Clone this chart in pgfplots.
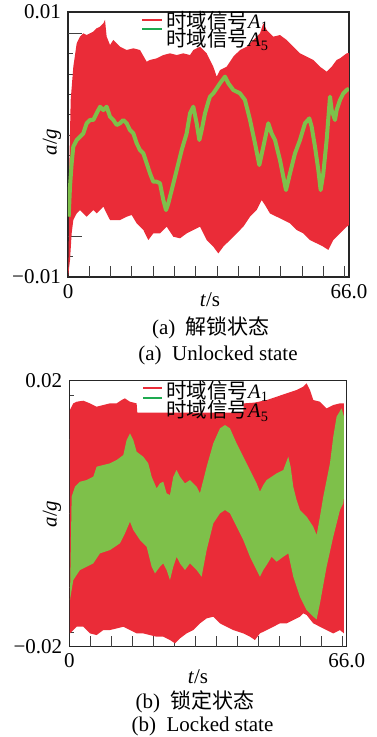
\documentclass[border=0pt]{standalone}
\usepackage{fontspec}
\setmainfont{Liberation Serif}
\newfontfamily\cjk{Noto Sans CJK SC}
\usepackage{pgfplots}
\pgfplotsset{compat=1.18}
\usepackage{pgfplotstable}
\definecolor{sigred}{RGB}{234,44,56}
\definecolor{siggreen}{RGB}{126,192,74}
\definecolor{leggreen}{RGB}{30,170,80}

% ---------- Panel (a): unlocked state, values in units of 1e-3 g ----------
% red band: upper envelope (t ascending)
\pgfplotstableread{
t v
0.16 -8
0.31 -1.67
0.63 3.36
1.25 5.87
2.04 7.63
2.82 8.14
3.60 8.39
4.38 8.26
5.17 8.39
5.95 8.52
6.73 8.77
7.52 8.89
8.30 9.14
8.69 9.40
9.08 8.14
9.87 7.51
10.65 7.89
11.43 7.63
12.21 7.38
13.78 7.13
15.35 7.26
16.91 7.13
18.48 6.25
19.26 6.38
20.83 6.50
22.39 6.75
23.96 6.88
25.53 6.75
27.09 6.88
28.66 6.75
29.44 7.13
31.00 7.38
32.57 6.88
34.13 5.87
34.92 5.12
35.70 5.62
37.26 5.87
38.83 6.63
40.40 7.13
41.96 7.38
43.53 7.89
45.09 8.39
45.88 9.14
46.66 8.64
48.23 8.14
49.79 8.26
51.36 7.89
52.92 7.38
54.49 6.88
56.06 6.63
57.62 6.38
59.19 5.87
60.75 5.50
61.93 5.87
63.10 6.38
63.89 6.50
65.45 6.88
66.00 6.90
}\upA
% red band: lower envelope (t ascending)
\pgfplotstableread{
t v
0.00 -10
0.47 -8.72
0.86 -6.71
1.25 -5.70
2.04 -5.20
2.82 -4.95
3.60 -5.20
4.38 -5.45
5.17 -5.20
5.95 -4.95
6.73 -5.20
7.52 -4.95
8.30 -4.69
9.08 -5.20
9.87 -5.70
10.65 -5.70
12.21 -5.70
13.78 -5.45
14.96 -5.32
16.13 -5.95
17.70 -6.45
18.87 -7.21
20.04 -6.71
21.61 -6.71
23.18 -6.20
24.74 -6.96
26.31 -7.08
27.87 -6.71
29.44 -6.45
31.01 -6.20
32.57 -7.21
34.13 -7.71
35.31 -8.22
36.48 -7.71
38.05 -7.21
39.61 -6.71
41.18 -6.20
42.75 -5.45
44.31 -4.95
45.49 -4.19
46.27 -4.57
47.44 -5.20
49.01 -5.45
50.58 -5.70
52.14 -5.95
53.71 -6.45
55.27 -6.71
56.84 -7.21
58.41 -7.46
59.97 -7.71
61.15 -7.96
62.32 -7.21
63.89 -6.71
65.45 -6.20
66.00 -6.10
}\loA
% green signal A5
\pgfplotstableread{
t v
0.16 -5.45
0.47 -3.18
0.86 -1.42
1.25 -0.16
2.04 0.34
2.82 0.59
3.60 0.84
4.38 1.60
5.17 1.85
5.95 1.85
6.73 2.35
7.52 2.85
8.30 2.60
9.08 2.85
9.87 2.10
10.65 1.85
11.43 1.47
12.21 1.60
13.00 1.85
13.78 1.60
14.56 1.09
15.35 0.84
16.13 0.09
16.91 -0.42
17.70 -0.67
18.48 -1.42
19.26 -2.18
20.04 -2.81
20.83 -2.81
21.61 -2.93
22.39 -4.19
23.02 -4.95
23.57 -4.44
24.35 -3.44
25.53 -1.93
26.70 -0.42
27.87 0.84
28.66 2.35
29.44 2.85
30.22 1.60
30.85 0.34
31.40 1.09
32.18 2.35
32.96 3.23
33.35 3.61
34.13 3.86
35.70 4.62
36.87 5.12
37.66 4.62
38.83 4.11
40.40 3.86
41.57 3.36
42.75 1.85
43.92 0.09
44.94 -1.55
45.88 -0.16
47.05 1.60
47.83 0.84
48.62 0.34
49.79 -1.17
51.20 -3.44
52.14 -2.18
53.32 -0.67
54.49 0.34
55.66 1.60
56.68 1.97
57.23 1.34
58.01 -0.16
58.80 -1.93
59.34 -3.44
59.97 -2.18
60.75 0.34
61.54 3.61
61.93 2.60
62.71 1.85
63.10 2.60
63.89 3.36
64.67 3.86
65.45 4.11
66.00 4.20
}\grA

% ---------- Panel (b): locked state, values in units of 1e-3 g ----------
\pgfplotstableread{
t v
0.16 15.59
0.95 16.59
1.74 16.84
3.33 16.99
4.92 16.59
6.50 16.09
8.09 16.34
9.67 16.59
11.26 16.59
12.45 17.09
13.24 17.34
14.43 16.84
16.02 16.59
16.18 15.19
41.40 15.19
41.50 16.59
44.00 16.70
46.95 17.09
49.33 17.59
51.71 18.10
54.09 18.60
55.67 19.10
56.47 19.60
57.26 18.60
58.05 17.09
59.64 16.84
61.22 15.84
62.81 16.34
64.40 16.59
65.35 16.59
}\upB
\pgfplotstableread{
t v
0.16 -18.00
1.74 -17.00
3.33 -17.00
4.92 -18.00
6.50 -18.25
8.09 -17.50
9.67 -17.50
11.26 -17.25
12.85 -17.00
14.43 -17.50
16.02 -18.00
17.60 -18.00
19.19 -18.25
20.78 -18.50
22.36 -18.50
23.95 -19.00
25.14 -19.50
26.33 -18.75
27.91 -18.00
29.50 -17.50
31.09 -16.49
32.67 -15.74
34.26 -15.49
35.85 -16.49
37.43 -17.00
39.02 -17.50
41.40 -18.00
42.99 -18.50
44.17 -19.00
45.36 -18.00
46.95 -17.50
48.54 -17.00
50.12 -16.49
51.71 -16.49
53.29 -15.99
54.88 -15.49
55.67 -14.99
56.47 -15.24
58.05 -16.49
59.64 -17.00
61.22 -17.50
62.81 -18.00
64.40 -17.50
65.35 -18.00
}\loB
\pgfplotstableread{
t v
0.16 -12.99
0.56 2.55
1.35 4.06
2.54 4.81
4.12 5.06
5.71 5.56
6.50 7.07
8.09 7.32
9.67 7.57
11.26 8.07
12.85 8.82
13.64 11.08
14.43 12.08
15.23 11.08
16.02 9.32
17.60 8.57
18.79 7.57
19.59 5.56
20.78 3.81
21.57 4.56
22.36 4.81
23.16 3.06
23.95 2.81
24.74 5.56
25.53 6.57
26.33 5.56
27.52 4.56
28.71 5.06
30.29 4.06
31.09 3.06
32.68 7.07
34.26 10.58
35.85 12.83
37.04 13.33
38.23 12.83
39.81 10.58
41.40 8.57
42.99 6.57
44.57 4.56
45.36 3.31
46.16 4.31
46.95 5.06
48.14 5.56
49.33 6.06
50.92 6.57
52.10 8.57
52.66 7.07
53.29 4.06
54.09 2.05
54.88 0.55
56.47 -0.45
58.05 -1.96
58.85 -3.21
59.64 -0.45
60.43 2.55
61.22 5.06
62.02 7.57
62.81 11.58
63.60 14.59
64.79 15.84
65.35 14.59
}\gupB
\pgfplotstableread{
t v
0.16 -12.99
0.95 -9.98
2.54 -8.47
4.12 -7.97
5.71 -7.47
7.30 -5.97
9.67 -5.47
12.05 -4.46
13.24 -2.96
14.43 -1.21
15.23 -2.46
16.81 -3.96
18.40 -4.96
19.59 -7.97
20.38 -8.98
21.57 -7.97
22.36 -7.47
23.16 -8.47
23.95 -9.98
24.74 -7.97
25.53 -6.47
26.33 -7.47
27.52 -8.47
28.71 -7.47
30.29 -8.47
31.48 -9.48
32.68 -5.47
34.26 -1.46
35.85 0.05
37.04 0.55
38.23 0.05
39.81 -1.96
41.40 -3.96
42.99 -6.47
44.57 -8.47
45.36 -9.48
46.16 -8.47
46.95 -7.72
48.14 -6.47
49.33 -7.22
50.92 -6.47
52.10 -5.97
53.29 -9.48
54.88 -12.48
56.47 -14.49
58.05 -15.49
58.85 -15.89
59.64 -13.49
61.22 -7.97
62.81 -3.46
64.40 0.55
65.19 1.55
65.35 2.55
}\glowB

% closed outlines: upper envelope followed by the lower envelope in reverse order
\pgfplotstablesort[sort key=t, sort cmp=float >]{\loArev}{\loA}
\pgfplotstablevertcat{\upA}{\loArev}
\pgfplotstablesort[sort key=t, sort cmp=float >]{\loBrev}{\loB}
\pgfplotstablevertcat{\upB}{\loBrev}
\pgfplotstablesort[sort key=t, sort cmp=float >]{\glowBrev}{\glowB}
\pgfplotstablevertcat{\gupB}{\glowBrev}

\pgfplotsset{
  sigaxis/.style={
    scale only axis,
    xmin=0, xmax=66,
    scaled y ticks=false, scaled x ticks=false,
    axis line style={line width=1.3pt, black!85},
    tick align=inside,
    xtick pos=bottom, ytick pos=left,
    xtick={0,66}, xticklabels={0,66.0},
    major tick length=0pt,
    minor tick length=5pt,
    tick style={black!75, line width=0.8pt},
    extra x ticks={5,10,15,20,25,30,35,40,45,50,55,60,65},
    extra x tick labels={},
    extra x tick style={major tick length=11pt},
    extra y tick labels={},
    extra y tick style={major tick length=14pt},
  },
}

\begin{document}
\fontsize{21}{24}\selectfont
\begin{tikzpicture}[x=1pt, y=1pt]

% ================= Panel (a) =================
\begin{axis}[sigaxis,
  at={(68pt,460pt)}, anchor=south west,
  width=281pt, height=265pt,
  ymin=-0.01, ymax=0.01,
  ytick={-0.01,0.01}, yticklabels={−0.01,0.01},
  minor ytick={-0.00848,-0.00541,-0.00388,-0.00235,-0.00081,0.00225,0.00379,0.00532,0.00686},
  extra y ticks={-0.00695,0.00072,0.00839},
]
\addplot[fill=sigred, draw=none] table[x=t, y expr=\thisrow{v}/1000] {\upA};
\addplot[siggreen, line width=4pt, line join=round] table[x=t, y expr=\thisrow{v}/1000] {\grA};
\end{axis}

% ================= Panel (b) =================
\begin{axis}[sigaxis,
  at={(69.3pt,90.3pt)}, anchor=south west,
  width=277.4pt, height=266pt,
  ymin=-0.02, ymax=0.02,
  ytick={-0.02,0.02}, yticklabels={−0.02,0.02},
  minor ytick={-0.0178,-0.0156,-0.0134,-0.0089,-0.0067,-0.0045,-0.0022,0.0022,0.0045,0.0067,0.0089,0.0134,0.0156,0.0178},
  extra y ticks={-0.0111,0,0.0111},
]
\addplot[fill=sigred, draw=none] table[x=t, y expr=\thisrow{v}/1000] {\upB};
\addplot[fill=siggreen, draw=none] table[x=t, y expr=\thisrow{v}/1000] {\gupB};
\end{axis}

% legends (keys and entries)
\begin{scope}[every node/.style={inner sep=0pt, anchor=west, font=\fontsize{20.5}{22}\selectfont}]
\draw[sigred, line width=1.2pt] (142,717) -- (162,717);
\draw[leggreen, line width=1.2pt] (142,708) -- (162,708);
\node at (166,715.5) {{\cjk 时域信号}\textit{A}\textsubscript{1}};
\node at (166,697) {{\cjk 时域信号}\textit{A}\textsubscript{5}};
\draw[sigred, line width=1.2pt] (143,349) -- (162,349);
\draw[leggreen, line width=1.2pt] (143,339) -- (162,339);
\node at (166,346) {{\cjk 时域信号}\textit{A}\textsubscript{1}};
\node at (166,326) {{\cjk 时域信号}\textit{A}\textsubscript{5}};
\end{scope}

% labels and captions
\node[inner sep=0pt] at (210,437) {\textit{t}/s};
\node[inner sep=0pt, rotate=90] at (52,595) {\textit{a}/\textit{g}};
\node[inner sep=0pt] at (211,409) {(a)\hspace{0.5em}{\cjk 解锁状态}};
\node[inner sep=0pt] at (218,382) {(a)\hspace{0.5em}Unlocked state};
\node[inner sep=0pt] at (198,60) {\textit{t}/s};
\node[inner sep=0pt, rotate=90] at (52,223) {\textit{a}/\textit{g}};
\node[inner sep=0pt] at (195,35) {(b)\hspace{0.5em}{\cjk 锁定状态}};
\node[inner sep=0pt] at (202.5,11) {(b)\hspace{0.5em}Locked state};

\pgfresetboundingbox
\useasboundingbox (0,0) rectangle (376,737);
\end{tikzpicture}
\end{document}
